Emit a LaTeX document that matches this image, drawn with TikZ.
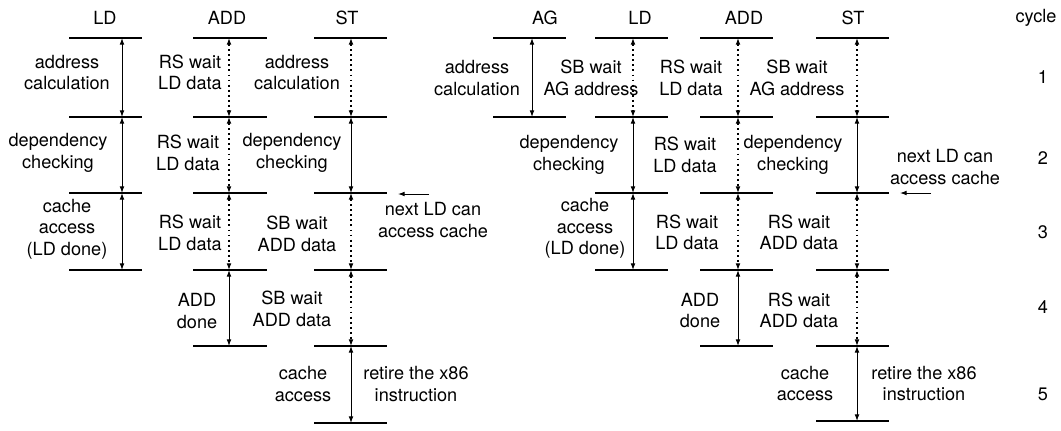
\documentclass[tikz,border=0pt]{standalone}
\usepackage{fontspec}
\setmainfont{TeX Gyre Heros}
\usetikzlibrary{arrows.meta}
\tikzset{
  stagebar/.style={line width=1.8pt},
  span/.style={line width=0.7pt,
    {Latex[length=5pt,width=3.6pt]}-{Latex[length=5pt,width=3.6pt]}},
  waitspan/.style={span, line width=0.8pt, dash pattern=on 1.4pt off 2.4pt},
  pointer/.style={line width=0.7pt, -{Latex[length=5pt,width=3.6pt]}},
  lbl/.style={align=center, inner sep=0pt, font=\fontsize{13.6}{16.2}\selectfont},
}
\begin{document}
\begin{tikzpicture}[x=0.75pt, y=-0.75pt]
\useasboundingbox (0,0) rectangle (1061,430);

% ---------------- first schedule: LD, ADD, ST ----------------
\foreach \y [count=\i from 0] in {38,117,193,270} {
  \coordinate (aLD\i) at (122,\y);
  \draw[stagebar] (69,\y) -- (142,\y);
}
\foreach \y [count=\i from 0] in {38,117,193,270,346} {
  \coordinate (aADD\i) at (229,\y);
  \draw[stagebar] (193,\y) -- (267,\y);
}
\foreach \y [count=\i from 0] in {38,117,193,270,346,423} {
  \coordinate (aST\i) at (351,\y);
  \draw[stagebar] (314,\y) -- (387,\y);
}

\node[lbl] (hLD)  at (105,18) {LD};
\node[lbl] (hADD) at (227,18) {ADD};
\node[lbl] (hST)  at (347,18) {ST};

\draw[span] (aLD0) -- (aLD1);
\draw[span] (aLD1) -- (aLD2);
\draw[span] (aLD2) -- (aLD3);
\draw[waitspan] (aADD0) -- (aADD1);
\draw[waitspan] (aADD1) -- (aADD2);
\draw[waitspan] (aADD2) -- (aADD3);
\draw[span] (aADD3) -- (aADD4);
\draw[waitspan] (aST0) -- (aST1);
\draw[span] (aST1) -- (aST2);
\draw[waitspan] (aST2) -- (aST3);
\draw[waitspan] (aST3) -- (aST4);
\draw[span] (aST4) -- (aST5);

\node[lbl] (tLD1)  at (67,72.5) {address\\calculation};
\node[lbl] (tLD2)  at (58,153) {dependency\\checking};
\node[lbl] (tLD3)  at (67,229) {cache\\access\\(LD done)};
\node[lbl] (tADD1) at (190,72.5) {RS wait\\LD data};
\node[lbl] (tADD2) at (188,153) {RS wait\\LD data};
\node[lbl] (tADD3) at (190,233) {RS wait\\LD data};
\node[lbl] (tADD4) at (197,311) {ADD\\done};
\node[lbl] (tST1)  at (297,72.5) {address\\calculation};
\node[lbl] (tST2)  at (292,153) {dependency\\checking};
\node[lbl] (tST3)  at (297,234) {SB wait\\ADD data};
\node[lbl] (tST4)  at (292,309) {SB wait\\ADD data};
\node[lbl] (tST5)  at (303,384) {cache\\access};
\node[lbl] (tRet)  at (416,384) {retire the x86\\instruction};
\node[lbl] (tNext) at (433,220) {next LD can\\access cache};
\coordinate (nA) at (429,194);
\coordinate (nB) at (398,194);
\draw[pointer] (nA) -- (nB);

% ---------------- second schedule: AG, LD, ADD, ST ----------------
\foreach \y [count=\i from 0] in {38,117} {
  \coordinate (bAG\i) at (532,\y);
  \draw[stagebar] (493,\y) -- (566,\y);
}
\foreach \y [count=\i from 0] in {38,117,193,270} {
  \coordinate (bLD\i) at (633,\y);
  \draw[stagebar] (595,\y) -- (668,\y);
}
\foreach \y [count=\i from 0] in {38,117,193,270,346} {
  \coordinate (bADD\i) at (738,\y);
  \draw[stagebar] (700,\y) -- (773,\y);
}
\foreach \y [count=\i from 0] in {38,117,193,270,346,421} {
  \coordinate (bST\i) at (857,\y);
  \draw[stagebar] (816,\y) -- (889,\y);
}

\node[lbl] (hAGb)  at (545,18) {AG};
\node[lbl] (hLDb)  at (640,18) {LD};
\node[lbl] (hADDb) at (744,18) {ADD};
\node[lbl] (hSTb)  at (853,18) {ST};
\node[lbl] (hCyc)  at (1036,18) {cycle};

\draw[span] (bAG0) -- (bAG1);
\draw[waitspan] (bLD0) -- (bLD1);
\draw[span] (bLD1) -- (bLD2);
\draw[span] (bLD2) -- (bLD3);
\draw[waitspan] (bADD0) -- (bADD1);
\draw[waitspan] (bADD1) -- (bADD2);
\draw[waitspan] (bADD2) -- (bADD3);
\draw[span] (bADD3) -- (bADD4);
\draw[waitspan] (bST0) -- (bST1);
\draw[span] (bST1) -- (bST2);
\draw[waitspan] (bST2) -- (bST3);
\draw[waitspan] (bST3) -- (bST4);
\draw[span] (bST4) -- (bST5);

\node[lbl] (tAGb1)  at (477,78) {address\\calculation};
\node[lbl] (tLDb1)  at (591,78) {SB wait\\AG address};
\node[lbl] (tLDb2)  at (569,155) {dependency\\checking};
\node[lbl] (tLDb3)  at (585,228.5) {cache\\access\\(LD done)};
\node[lbl] (tADDb1) at (691,78) {RS wait\\LD data};
\node[lbl] (tADDb2) at (685,155) {RS wait\\LD data};
\node[lbl] (tADDb3) at (687,232.5) {RS wait\\LD data};
\node[lbl] (tADDb4) at (700,310.5) {ADD\\done};
\node[lbl] (tSTb1)  at (797,78) {SB wait\\AG address};
\node[lbl] (tSTb2)  at (793,155) {dependency\\checking};
\node[lbl] (tSTb3)  at (799,232.5) {RS wait\\ADD data};
\node[lbl] (tSTb4)  at (799,310.5) {RS wait\\ADD data};
\node[lbl] (tSTb5)  at (805,383.5) {cache\\access};
\node[lbl] (tRetb)  at (924,383.5) {retire the x86\\instruction};
\node[lbl] (tNextb) at (945,167) {next LD can\\access cache};
\coordinate (mA) at (931,193);
\coordinate (mB) at (900,193);
\draw[pointer] (mA) -- (mB);

% cycle numbers
\node[lbl] (c1) at (1043,77) {1};
\node[lbl] (c2) at (1043,158) {2};
\node[lbl] (c3) at (1043,232) {3};
\node[lbl] (c4) at (1043,307) {4};
\node[lbl] (c5) at (1043,394) {5};
\end{tikzpicture}
\end{document}
